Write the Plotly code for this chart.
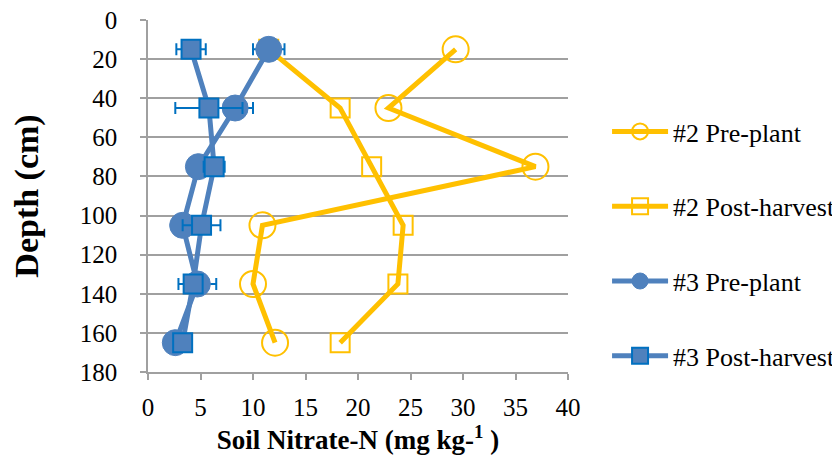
import plotly.graph_objects as go

depth = [15, 45, 75, 105, 135, 165]
pre2 = [29.3, 22.9, 36.9, 10.9, 10.0, 12.1]
post2 = [11.5, 18.3, 21.3, 24.3, 23.8, 18.3]
pre3 = [11.5, 8.3, 4.8, 3.3, 4.7, 2.6]
post3 = [4.1, 5.8, 6.3, 5.1, 4.3, 3.3]
pre3_err = [1.5, 1.7, 0.6, 0.5, 1.8, 0.4]
post3_err = [1.4, 3.2, 1.0, 1.8, 0.5, 0.4]

names = ["#2 Pre-plant", "#2 Post-harvest", "#3 Pre-plant", "#3 Post-harvest"]
x_ticks = [0, 5, 10, 15, 20, 25, 30, 35, 40]
y_ticks = [0, 20, 40, 60, 80, 100, 120, 140, 160, 180]

YEL = "#FFC000"
BLUE = "#4F81BD"
DBLUE = "#0070C0"
FONT = "Times New Roman, Liberation Serif, DejaVu Serif, serif"
TICKFONT = dict(family=FONT, size=25, color="black")

fig = go.Figure()
fig.add_trace(go.Scatter(
    x=pre2, y=depth, name=names[0], mode="lines+markers", legendgroup="a",
    line=dict(color=YEL, width=5),
    marker=dict(symbol="circle", size=26, color="rgba(0,0,0,0)",
                line=dict(color=YEL, width=2))))
fig.add_trace(go.Scatter(
    x=post2, y=depth, name=names[1], mode="lines+markers", legendgroup="b",
    line=dict(color=YEL, width=5),
    marker=dict(symbol="square", size=19, color="rgba(0,0,0,0)",
                line=dict(color=YEL, width=2))))
fig.add_trace(go.Scatter(
    x=pre3, y=depth, name=names[2], mode="lines+markers", legendgroup="c",
    line=dict(color=BLUE, width=5),
    marker=dict(symbol="circle", size=26, color=BLUE,
                line=dict(color=BLUE, width=1)),
    error_x=dict(type="data", array=pre3_err, visible=True,
                 color=DBLUE, thickness=2, width=6)))
fig.add_trace(go.Scatter(
    x=post3, y=depth, name=names[3], mode="lines+markers", legendgroup="d",
    line=dict(color=BLUE, width=5),
    marker=dict(symbol="square", size=19, color=BLUE,
                line=dict(color=DBLUE, width=2)),
    error_x=dict(type="data", array=post3_err, visible=True,
                 color=DBLUE, thickness=2, width=6)))

fig.update_layout(
    width=832, height=448,
    margin=dict(l=140, r=272, t=12, b=84, autoexpand=False),
    paper_bgcolor="white", plot_bgcolor="white",
    font=dict(family=FONT, size=25, color="black"),
    showlegend=True,
    legend=dict(x=1.093, y=0.75, xanchor="left", yanchor="top",
                font=dict(family=FONT, size=26, color="black"),
                itemwidth=56, tracegroupgap=38, bgcolor="rgba(0,0,0,0)"),
    xaxis=dict(range=[0, 40], tickvals=x_ticks, ticktext=[str(v) for v in x_ticks],
               automargin=False, tickfont=TICKFONT, ticklabeloverflow="allow",
               showgrid=False, zeroline=False, showline=True,
               linecolor="#A0A0A0", linewidth=1.5,
               ticks="outside", ticklen=6, tickcolor="#A0A0A0", tickwidth=1.5,
               ticklabelstandoff=6,
               title=dict(text="<b>Soil Nitrate-N (mg kg-<sup>1</sup> )</b>",
                          font=dict(family=FONT, size=27), standoff=6)),
    yaxis=dict(range=[180, 0], tickvals=y_ticks, ticktext=[str(v) for v in y_ticks],
               automargin=False, tickfont=TICKFONT, ticklabeloverflow="allow",
               showgrid=True, gridcolor="#A0A0A0", gridwidth=1.5,
               zeroline=False, showline=True,
               linecolor="#A0A0A0", linewidth=1.5,
               ticks="outside", ticklen=6, tickcolor="#A0A0A0", tickwidth=1.5,
               ticklabelstandoff=18,
               title=dict(text="<b>Depth (cm)</b>",
                          font=dict(family=FONT, size=34), standoff=46)),
)

fig.write_html("out.html")
